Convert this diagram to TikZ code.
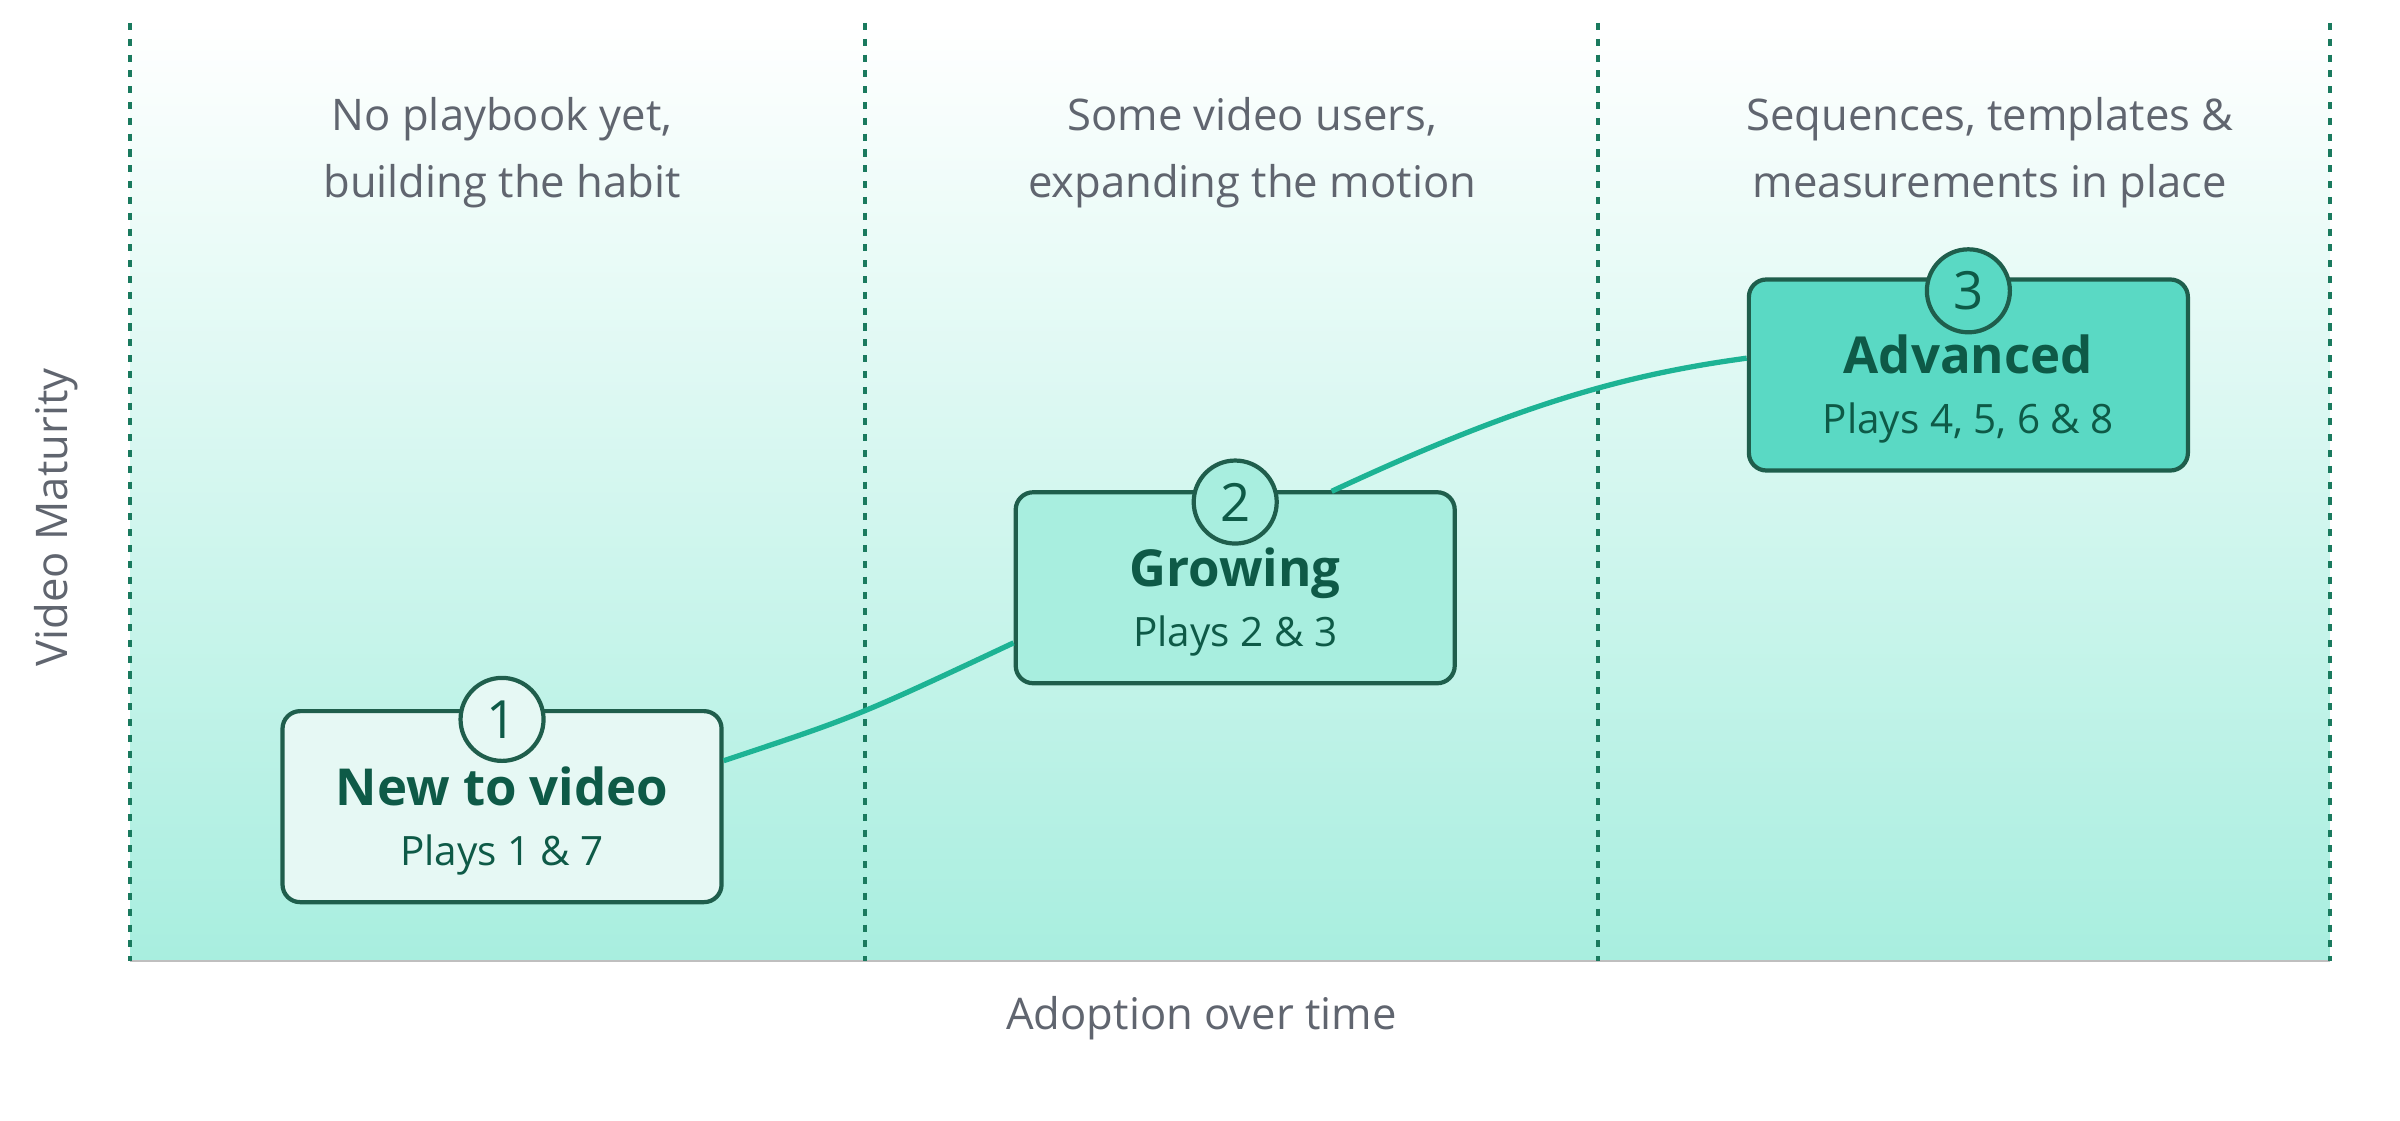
\documentclass[tikz,border=0pt]{standalone}
\usepackage{fontspec}
\setmainfont{Open Sans}
\usetikzlibrary{positioning}
\definecolor{dgreen}{HTML}{1F5E4C}
\definecolor{tgreen}{HTML}{0E5A47}
\definecolor{lgreen}{HTML}{A8EEDF}
\definecolor{mgreen}{HTML}{5AD9C4}
\definecolor{pgreen}{HTML}{E6F8F4}
\definecolor{cgreen}{HTML}{1DB394}
\definecolor{dotgreen}{HTML}{1A7A5E}
\definecolor{txtgrey}{HTML}{60656F}
\tikzset{
  stage/.style={draw=dgreen, line width=1.2pt, rounded corners=5pt,
    minimum width=4.39cm, minimum height=1.91cm, align=center},
  num/.style={circle, draw=dgreen, line width=1.2pt, fill=#1,
    minimum size=0.83cm, inner sep=0pt, text=tgreen, font=\fontsize{15}{18}\selectfont},
  head/.style={text=txtgrey, align=center, font=\fontsize{12.4}{19}\selectfont},
  divider/.style={dotgreen, line width=1.2pt, dash pattern=on 2pt off 2.5pt}
}
\begin{document}
\begin{tikzpicture}[x=0.01531cm, y=-0.01531cm]
  \useasboundingbox (0,0) rectangle (1568,732);
  % background
  \shade[top color=white, bottom color=lgreen] (85,15) rectangle (1522,628);
  \draw[gray!50, line width=0.6pt] (85,628) -- (1522,628);
  % dividers
  \foreach \xx in {85,565,1044,1522}
    \draw[divider] (\xx,15) -- (\xx,628);
  % headers
  \node[head] (h1) at (328,100) {No playbook yet,\\building the habit};
  \node[head] (h2) at (818,100) {Some video users,\\expanding the motion};
  \node[head] (h3) at (1300,100) {Sequences, templates \&\\measurements in place};
  % axis labels
  \node[head, rotate=90] (ylab) at (37,338) {Video Maturity};
  \node[head] (xlab) at (785,665) {Adoption over time};
  % stages
  \node[stage, fill=pgreen] (s1) at (328,527) {};
  \node[stage, fill=lgreen] (s2) at (807,384) {};
  \node[stage, fill=mgreen] (s3) at (1286,245) {};
  % connectors
  \draw[cgreen, line width=1.5pt] (s1.east |- 0,497) coordinate (a1)
    .. controls (560,468) .. (s2.west |- 0,420) coordinate (a2);
  \draw[cgreen, line width=1.5pt] (870,321) coordinate (b1)
    .. controls (990,265) and (1060,245) .. (s3.west |- 0,234) coordinate (b2);
  % texts
  \foreach \s/\t/\p in {s1/New to video/{Plays 1 \& 7}, s2/Growing/{Plays 2 \& 3}, s3/Advanced/{Plays 4, 5, 6 \& 8}}
    \node[text=tgreen, align=center, font=\fontsize{11.5}{17}\selectfont] at ([yshift=-0.14cm]\s.center)
      {{\fontsize{14.5}{20}\selectfont\bfseries \t}\\\p};
  % numbers
  \node[num=pgreen] (n1) at (328,470) {1};
  \node[num=lgreen] (n2) at (807,328) {2};
  \node[num=mgreen] (n3) at (1286,190) {3};
\end{tikzpicture}
\end{document}
